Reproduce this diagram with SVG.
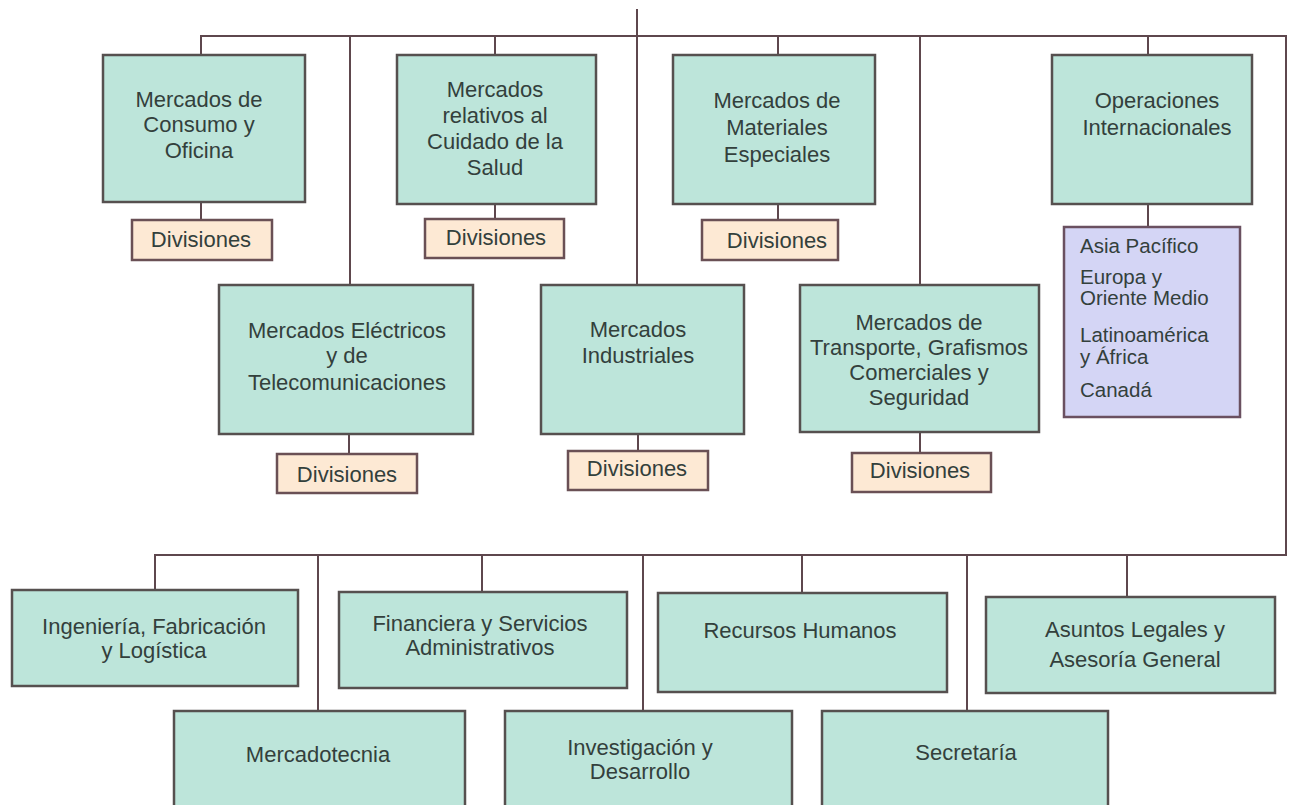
<svg xmlns="http://www.w3.org/2000/svg" width="1293" height="805" viewBox="0 0 1293 805">
<style>
.bx{fill:#bde5da;stroke:#56504f;stroke-width:2.5}
.dv{fill:#fde9d4;stroke:#6a5055;stroke-width:2.5}
.pb{fill:#d4d5f5;stroke:#6a5060;stroke-width:2.5}
.ln{fill:none;stroke:#5e474d;stroke-width:2}
text{font-family:"Liberation Sans",Arial,sans-serif;font-size:22px;fill:#33403c}
.c{text-anchor:middle}
.p{font-size:20.5px}
</style>
<rect width="1293" height="805" fill="#ffffff"/>
<g id="connectors" class="ln">
<line x1="637" y1="9" x2="637" y2="285"/>
<polyline points="201,55 201,36 1286,36 1286,555 155,555 155,590"/>
<line x1="350" y1="36" x2="350" y2="285"/>
<line x1="495" y1="36" x2="495" y2="55"/>
<line x1="778" y1="36" x2="778" y2="55"/>
<line x1="920" y1="36" x2="920" y2="285"/>
<line x1="1148" y1="36" x2="1148" y2="55"/>
<line x1="201" y1="202" x2="201" y2="220"/>
<line x1="495" y1="204" x2="495" y2="219"/>
<line x1="778" y1="204" x2="778" y2="220"/>
<line x1="1148" y1="204" x2="1148" y2="227"/>
<line x1="349" y1="434" x2="349" y2="454"/>
<line x1="638" y1="434" x2="638" y2="451"/>
<line x1="920" y1="432" x2="920" y2="453"/>
<line x1="318" y1="555" x2="318" y2="711"/>
<line x1="482" y1="555" x2="482" y2="592"/>
<line x1="643" y1="555" x2="643" y2="711"/>
<line x1="802" y1="555" x2="802" y2="593"/>
<line x1="967" y1="555" x2="967" y2="711"/>
<line x1="1127" y1="555" x2="1127" y2="597"/>
</g>
<g id="consumo">
<rect class="bx" x="103" y="55" width="202" height="147"/>
<text class="c" x="199" y="107">Mercados de</text>
<text class="c" x="199" y="132">Consumo y</text>
<text class="c" x="199" y="158">Oficina</text>
</g>
<g id="div1">
<rect class="dv" x="132" y="220" width="140" height="40"/>
<text class="c" x="201" y="247">Divisiones</text>
</g>
<g id="salud">
<rect class="bx" x="397" y="55" width="199" height="149"/>
<text class="c" x="495" y="97">Mercados</text>
<text class="c" x="495" y="123">relativos al</text>
<text class="c" x="495" y="149">Cuidado de la</text>
<text class="c" x="495" y="175">Salud</text>
</g>
<g id="div2">
<rect class="dv" x="425" y="219" width="139" height="39"/>
<text class="c" x="496" y="245">Divisiones</text>
</g>
<g id="materiales">
<rect class="bx" x="673" y="55" width="202" height="149"/>
<text class="c" x="777" y="108">Mercados de</text>
<text class="c" x="777" y="135">Materiales</text>
<text class="c" x="777" y="162">Especiales</text>
</g>
<g id="div3">
<rect class="dv" x="702" y="220" width="136" height="40"/>
<text class="c" x="777" y="248">Divisiones</text>
</g>
<g id="internacionales">
<rect class="bx" x="1052" y="55" width="200" height="149"/>
<text class="c" x="1157" y="108">Operaciones</text>
<text class="c" x="1157" y="135">Internacionales</text>
</g>
<g id="regiones">
<rect class="pb" x="1064" y="227" width="176" height="190"/>
<text class="p" x="1080" y="253">Asia Pacífico</text>
<text class="p" x="1080" y="284">Europa y</text>
<text class="p" x="1080" y="305">Oriente Medio</text>
<text class="p" x="1080" y="342">Latinoamérica</text>
<text class="p" x="1080" y="364">y África</text>
<text class="p" x="1080" y="397">Canadá</text>
</g>
<g id="electricos">
<rect class="bx" x="219" y="285" width="254" height="149"/>
<text class="c" x="347" y="338">Mercados Eléctricos</text>
<text class="c" x="347" y="363">y de</text>
<text class="c" x="347" y="390">Telecomunicaciones</text>
</g>
<g id="div4">
<rect class="dv" x="277" y="454" width="140" height="39"/>
<text class="c" x="347" y="482">Divisiones</text>
</g>
<g id="industriales">
<rect class="bx" x="541" y="285" width="203" height="149"/>
<text class="c" x="638" y="337">Mercados</text>
<text class="c" x="638" y="363">Industriales</text>
</g>
<g id="div5">
<rect class="dv" x="568" y="451" width="140" height="39"/>
<text class="c" x="637" y="476">Divisiones</text>
</g>
<g id="transporte">
<rect class="bx" x="800" y="285" width="239" height="147"/>
<text class="c" x="919" y="330">Mercados de</text>
<text class="c" x="919" y="355">Transporte, Grafismos</text>
<text class="c" x="919" y="380">Comerciales y</text>
<text class="c" x="919" y="405">Seguridad</text>
</g>
<g id="div6">
<rect class="dv" x="852" y="453" width="139" height="39"/>
<text class="c" x="920" y="478">Divisiones</text>
</g>
<g id="ingenieria">
<rect class="bx" x="12" y="590" width="286" height="96"/>
<text class="c" x="154" y="634">Ingeniería, Fabricación</text>
<text class="c" x="154" y="658">y Logística</text>
</g>
<g id="financiera">
<rect class="bx" x="339" y="592" width="288" height="96"/>
<text class="c" x="480" y="631">Financiera y Servicios</text>
<text class="c" x="480" y="655">Administrativos</text>
</g>
<g id="rrhh">
<rect class="bx" x="658" y="593" width="289" height="99"/>
<text class="c" x="800" y="638">Recursos Humanos</text>
</g>
<g id="legales">
<rect class="bx" x="986" y="597" width="289" height="96"/>
<text class="c" x="1135" y="637">Asuntos Legales y</text>
<text class="c" x="1135" y="667">Asesoría General</text>
</g>
<g id="mercadotecnia">
<rect class="bx" x="174" y="711" width="291" height="110"/>
<text class="c" x="318" y="762">Mercadotecnia</text>
</g>
<g id="investigacion">
<rect class="bx" x="505" y="711" width="287" height="110"/>
<text class="c" x="640" y="755">Investigación y</text>
<text class="c" x="640" y="779">Desarrollo</text>
</g>
<g id="secretaria">
<rect class="bx" x="822" y="711" width="286" height="110"/>
<text class="c" x="966" y="760">Secretaría</text>
</g>
</svg>
